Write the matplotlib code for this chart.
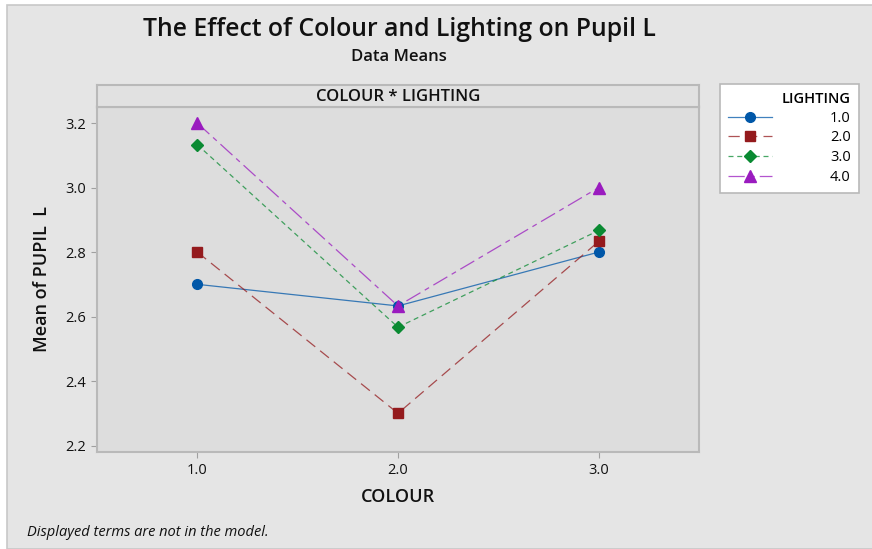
import matplotlib.pyplot as plt
from matplotlib.colors import to_rgba
from matplotlib.patches import Rectangle

plt.rcParams['font.family'] = ['Open Sans', 'DejaVu Sans']

# data means
colour = [1.0, 2.0, 3.0]
lighting_labels = ['1.0', '2.0', '3.0', '4.0']
light1 = [2.700, 2.633, 2.800]
light2 = [2.800, 2.300, 2.833]
light3 = [3.133, 2.567, 2.867]
light4 = [3.200, 2.633, 3.000]
yticks = [2.2, 2.4, 2.6, 2.8, 3.0, 3.2]

series = [light1, light2, light3, light4]
colors = ['#0057a8', '#941a1d', '#0a8a32', '#9a1bbf']
markers = ['o', 's', 'D', '^']
msizes = [7, 7, 6.5, 8]
dashes = [None, (9, 5), (4, 3), (13, 4, 4, 4)]

fig = plt.figure(figsize=(8.72, 5.49), dpi=100)
fig.patch.set_facecolor('white')

# grey page background with thin border
fig.patches.append(Rectangle((7 / 872, 0), 1, 1 - 5 / 549, transform=fig.transFigure,
                             facecolor='#e5e5e5', edgecolor='#c8c8c8', linewidth=1.2,
                             zorder=-5))

ax = fig.add_axes([97 / 872, (549 - 452) / 549, 602 / 872, 345 / 549])
ax.set_facecolor('#dddddd')


def styled_line(xs, ys, c, m, ms, d):
    ln, = ax.plot(xs, ys, color=to_rgba(c, 0.75), linewidth=0.9, marker=m,
                  markersize=ms, markerfacecolor=c, markeredgecolor=c)
    if d is not None:
        ln.set_dashes(d)
    return ln


for vals, c, m, ms, d in zip(series, colors, markers, msizes, dashes):
    styled_line(colour, vals, c, m, ms, d)

ax.set_xlim(0.5, 3.5)
ax.set_ylim(2.18, 3.25)
ax.set_xticks(colour)
ax.set_xticklabels(['1.0', '2.0', '3.0'])
ax.set_yticks(yticks)
ax.set_yticklabels([f'{v:.1f}' for v in yticks])
ax.tick_params(axis='both', length=4, width=0.8, color='#a0a0a0', labelsize=10.5,
               labelcolor='#111111', pad=4)
for s in ax.spines.values():
    s.set_color('#b9b9b9')
    s.set_linewidth(1.5)
ax.set_xlabel('COLOUR', fontsize=13, fontweight='semibold', labelpad=7, color='#111111')
ax.set_ylabel('Mean of PUPIL  L', fontsize=13, fontweight='semibold', labelpad=10,
              color='#111111')

# strip above panel
sx = fig.add_axes([97 / 872, (549 - 107) / 549, 602 / 872, 22 / 549])
sx.set_facecolor('#e1e1e1')
sx.set_xticks([])
sx.set_yticks([])
for s in sx.spines.values():
    s.set_color('#b9b9b9')
    s.set_linewidth(1.5)
sx.text(0.5, 0.45, 'COLOUR * LIGHTING', ha='center', va='center', fontsize=12,
        fontweight='semibold', color='#111111', transform=sx.transAxes)

fig.text(399 / 872, 1 - 30 / 549, 'The Effect of Colour and Lighting on Pupil L',
         ha='center', va='center', fontsize=17.8, fontweight='semibold', color='#111111')
fig.text(399 / 872, 1 - 57 / 549, 'Data Means', ha='center', va='center',
         fontsize=12, fontweight='semibold', color='#111111')
fig.text(27 / 872, 1 - 532 / 549, 'Displayed terms are not in the model.',
         ha='left', va='center', fontsize=10.5, style='italic', color='#111111')

# legend
handles = [styled_line([], [], c, m, ms, d)
           for c, m, ms, d in zip(colors, markers, msizes, dashes)]
leg = fig.legend(handles, lighting_labels, title='LIGHTING', loc='upper left',
                 bbox_to_anchor=(720 / 872, 1 - 84 / 549), borderaxespad=0,
                 fontsize=10.5, title_fontsize=10.5, alignment='right',
                 handlelength=3.0, handletextpad=4.0, labelspacing=0.32,
                 borderpad=0.55, fancybox=False, framealpha=1, edgecolor='#b9b9b9')
leg.get_frame().set_linewidth(1.2)
leg.get_title().set_fontweight('semibold')

fig.savefig('out.png', dpi=100)
